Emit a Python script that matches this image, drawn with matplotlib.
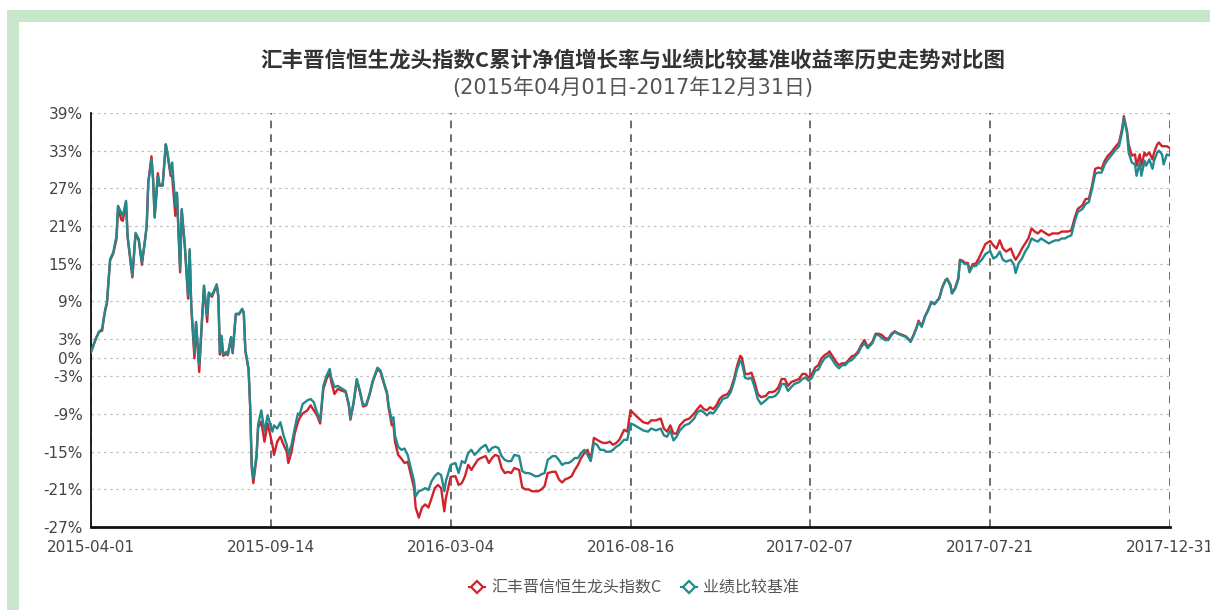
import matplotlib
matplotlib.use('Agg')
import matplotlib.pyplot as plt
from matplotlib.lines import Line2D
from matplotlib.patches import Rectangle

# 交易日序号 (0 = 2015-04-01, 678 = 2017-12-31)
days = [0, 3, 5, 7, 8, 9, 10, 12, 14, 16, 17, 19, 20, 22, 23, 26, 28, 30, 32, 34, 35, 36, 38,
        39, 40, 42, 43, 45, 47, 48, 50, 51, 53, 54, 56, 57, 59, 61, 62, 63, 65, 66, 68, 70, 71,
        73, 74, 76, 79, 80, 81, 82, 83, 85, 86, 88, 89, 91, 93, 95, 96, 97, 99, 100, 101, 102,
        104, 105, 107, 109, 111,
        114, 115, 117, 119, 121, 123, 124, 126, 128, 130, 131, 133, 136, 138, 140, 142, 144, 146,
        148, 150, 151, 153, 155, 158, 160, 162, 163, 165, 167, 169, 171, 173, 175, 177, 180, 182,
        184, 186, 187, 189, 190, 191, 193, 195, 197, 199, 200, 203, 204, 206, 208, 210, 212, 214,
        216, 218, 220, 222, 223, 226,
        229, 231, 233, 235, 237, 239, 241, 243, 245, 248, 250, 252, 254, 256, 258, 260, 262, 264,
        266, 269, 271, 273, 275, 277, 279, 281, 283, 285, 287, 290, 292, 294, 296, 298, 300, 302,
        304, 306, 308, 310, 312, 314, 316, 318, 320, 322, 324, 326, 328, 330, 332, 335, 337, 339,
        341, 343,
        347, 350, 352, 355, 358, 360, 362, 364, 366, 368, 370, 373, 376, 379, 381, 383, 385, 387,
        389, 391, 393, 395, 397, 400, 402, 404, 406, 408, 409, 411, 413, 415, 417, 419, 421, 424,
        426, 428, 430, 432, 434, 436, 438, 440, 442, 445, 447, 449, 451, 453, 455,
        457, 459, 461, 463, 464, 466, 468, 470, 472, 474, 476, 478, 480, 482, 484, 486, 488, 491,
        493, 495, 497, 499, 501, 503, 505, 507, 509, 512, 514, 515, 517, 519, 520, 522, 524, 526,
        528, 530, 533, 535, 537, 538, 540, 541, 543, 545, 546, 548, 549, 551, 552, 554, 556, 558,
        560, 562, 565,
        567, 569, 571, 573, 575, 578, 580, 581, 583, 585, 587, 589, 591, 593, 595, 597, 600, 602,
        604, 606, 608, 610, 612, 614, 616, 618, 620, 623, 625, 627, 629, 631, 633, 635, 637, 639,
        641, 644, 646, 648, 649, 651, 652, 654, 656, 657, 659, 660, 662, 663, 665, 667, 668, 670,
        671, 673, 674, 676, 678]

# 汇丰晋信恒生龙头指数C 累计净值增长率 (%)
fund = [0.9, 3.0, 4.1, 4.3, 6.2, 7.6, 8.6, 15.5, 16.6, 18.9, 24.0, 22.0, 21.8, 24.8, 19.2,
        12.8, 19.7, 18.7, 14.8, 18.8, 21.0, 28.0, 32.1, 28.6, 22.5, 29.4, 27.6, 27.5, 34.0, 32.5,
        29.0, 28.9, 22.6, 26.0, 13.6, 23.5, 17.5, 9.4, 17.0, 8.0, -0.1, 5.5, -2.3, 7.0, 11.3, 5.7,
        10.2, 9.7, 11.5, 9.7, 0.5, 3.3, 0.3, 0.6, 0.4, 3.1, 0.7, 6.9, 6.9, 7.7, 7.1, 1.0, -1.9,
        -7.8, -17.6, -20.0, -16.0, -11.2, -10.2, -13.4, -10.5,
        -13.9, -15.5, -13.4, -12.6, -13.9, -15.0, -16.8, -15.0, -12.1, -10.3, -9.7, -8.9, -8.4,
        -7.6, -8.4, -9.2, -10.5, -5.0, -3.4, -2.4, -3.9, -5.8, -5.0, -5.3, -5.5, -7.6, -9.9, -7.3,
        -3.6, -5.5, -7.8, -7.6, -6.0, -3.9, -1.8, -2.3, -4.1, -5.8, -8.0, -10.8, -10.5, -13.4,
        -15.5, -16.1, -16.8, -16.6, -17.6, -20.8, -23.9, -25.5, -23.9, -23.4, -23.9, -22.4, -20.8,
        -20.3, -20.8, -24.5, -22.4, -19.0,
        -18.9, -20.3, -20.0, -18.9, -17.1, -17.9, -17.1, -16.3, -16.0, -15.7, -16.8, -16.0, -15.5,
        -15.7, -17.6, -18.4, -18.2, -18.4, -17.6, -17.9, -20.7, -21.0, -21.0, -21.3, -21.3, -21.3,
        -21.0, -20.5, -18.4, -18.2, -18.2, -19.4, -19.9, -19.4, -19.2, -18.9, -17.9, -17.1, -16.0,
        -15.2, -14.7, -16.3, -12.8, -13.1, -13.4, -13.6, -13.6, -13.4, -13.9, -13.6, -13.1, -11.5,
        -11.8, -8.4, -8.9, -9.4,
        -10.3, -10.5, -10.0, -10.0, -9.7, -11.3, -11.8, -10.8, -12.1, -12.1, -10.8, -10.0, -9.7,
        -8.9, -8.2, -7.6, -8.2, -8.4, -7.9, -8.2, -7.6, -6.6, -6.1, -5.8, -5.0, -3.4, -1.3, 0.3,
        0.0, -2.6, -2.6, -2.4, -3.9, -5.8, -6.3, -6.1, -5.5, -5.5, -5.3, -4.7, -3.4, -3.4, -4.5,
        -3.9, -3.7, -3.4, -2.6, -2.6, -3.2, -2.6, -1.6,
        -1.2, -0.1, 0.4, 0.7, 1.0, 0.2, -0.6, -1.2, -0.9, -0.9, -0.4, 0.2, 0.4, 1.0, 2.0, 2.8,
        1.7, 2.5, 3.8, 3.8, 3.6, 3.1, 3.0, 3.8, 4.2, 3.9, 3.7, 3.4, 2.9, 2.6, 3.7, 5.0, 5.9, 5.0,
        6.6, 7.6, 8.9, 8.6, 9.5, 11.3, 12.4, 12.6, 11.6, 10.3, 11.1, 12.7, 15.6, 15.4, 15.1, 15.1,
        13.8, 14.9, 15.0, 15.9, 17.0, 18.1, 18.6,
        17.9, 17.4, 18.7, 17.4, 16.9, 17.4, 16.1, 15.6, 16.4, 17.4, 18.2, 19.0, 20.6, 20.1, 19.8,
        20.3, 19.8, 19.5, 19.8, 19.8, 19.8, 20.1, 20.1, 20.1, 20.3, 22.2, 23.7, 24.3, 25.3, 25.3,
        27.4, 30.1, 30.3, 30.1, 31.4, 32.2, 32.7, 33.7, 34.3, 36.6, 38.5, 36.1, 34.0, 32.2, 32.4,
        30.6, 32.4, 30.6, 32.7, 32.2, 32.7, 31.6, 32.7, 34.0, 34.3, 33.7, 33.7, 33.7, 33.4]

# 业绩比较基准收益率 (%)
bench = [0.9, 3.0, 4.1, 4.6, 6.2, 7.8, 8.8, 15.7, 16.8, 19.4, 24.2, 23.1, 22.6, 25.0, 19.4,
         13.1, 19.9, 18.9, 15.2, 18.9, 21.0, 27.9, 31.6, 28.4, 22.3, 28.9, 27.4, 27.4, 34.0, 32.7,
         29.5, 31.1, 24.2, 26.3, 14.1, 23.7, 17.8, 9.9, 17.3, 8.3, 0.9, 5.7, -1.2, 7.2, 11.5, 6.7,
         10.4, 9.9, 11.7, 9.9, 0.9, 3.5, 0.6, 0.9, 0.6, 3.3, 0.9, 7.0, 7.0, 7.8, 7.2, 1.2, -1.7,
         -7.6, -17.1, -19.2, -15.5, -10.7, -8.4, -11.8, -9.2,
         -11.8, -10.8, -11.3, -10.3, -12.4, -13.9, -15.5, -13.9, -11.3, -8.9, -9.2, -7.4, -6.8,
         -6.6, -7.1, -8.7, -10.0, -4.5, -2.9, -1.8, -3.2, -4.7, -4.5, -5.0, -5.3, -7.4, -9.7, -7.1,
         -3.4, -5.3, -7.6, -7.4, -5.8, -3.7, -1.6, -2.1, -3.9, -5.5, -7.6, -10.0, -9.5, -12.4,
         -14.2, -14.7, -14.5, -15.5, -16.6, -19.7, -22.1, -21.3, -21.1, -20.8, -21.1, -19.7, -18.9,
         -18.4, -18.7, -21.3, -19.7, -17.1,
         -16.8, -18.4, -16.5, -16.8, -15.2, -14.7, -15.5, -15.0, -14.4, -13.9, -15.0, -14.4, -14.2,
         -14.4, -15.7, -16.3, -16.5, -16.5, -15.5, -15.7, -18.1, -18.4, -18.4, -18.6, -18.9, -18.9,
         -18.6, -18.4, -16.3, -15.7, -15.7, -16.3, -17.1, -16.8, -16.8, -16.5, -16.0, -16.0, -15.2,
         -14.7, -15.5, -16.5, -13.6, -13.9, -14.7, -14.7, -15.0, -15.0, -14.7, -14.2, -13.9, -13.1,
         -13.1, -10.5, -10.7, -11.0,
         -11.6, -11.8, -11.3, -11.6, -11.3, -12.4, -12.6, -11.6, -13.2, -12.6, -11.6, -10.8, -10.5,
         -9.7, -8.7, -8.4, -8.7, -9.2, -8.7, -8.9, -8.2, -7.4, -6.6, -6.3, -5.5, -3.9, -1.8, -0.5,
         -0.8, -3.2, -3.4, -3.2, -4.7, -6.6, -7.4, -6.8, -6.3, -6.3, -6.1, -5.5, -4.2, -4.2, -5.3,
         -4.7, -4.2, -3.9, -3.4, -3.2, -3.7, -3.2, -2.1,
         -1.9, -0.9, -0.1, 0.2, 0.4, -0.4, -1.2, -1.7, -1.2, -1.2, -0.6, -0.4, 0.2, 0.7, 1.7, 2.3,
         1.5, 2.3, 3.6, 3.6, 3.1, 2.8, 2.8, 3.6, 4.1, 3.8, 3.6, 3.3, 2.8, 2.5, 3.6, 4.9, 5.7, 4.9,
         6.5, 7.5, 8.8, 8.5, 9.4, 11.2, 12.3, 12.5, 11.5, 10.2, 11.0, 12.5, 15.4, 15.2, 14.9, 14.9,
         13.6, 14.6, 14.6, 15.2, 15.7, 16.5, 17.0,
         15.8, 16.1, 16.9, 15.6, 15.3, 15.6, 14.8, 13.5, 15.1, 15.8, 16.9, 17.7, 19.0, 18.7, 18.5,
         19.0, 18.5, 18.2, 18.5, 18.7, 18.7, 19.0, 19.0, 19.3, 19.5, 21.6, 23.2, 23.7, 24.5, 24.8,
         26.9, 29.3, 29.5, 29.5, 30.8, 31.6, 32.2, 33.2, 33.7, 36.1, 38.2, 35.8, 32.7, 31.1, 30.8,
         29.0, 31.1, 29.0, 31.4, 30.6, 31.6, 30.1, 31.4, 32.7, 33.0, 32.4, 30.8, 32.4, 32.2]

xtick_pos = [0, 113, 226, 339, 452, 565, 678]
xtick_labels = ['2015-04-01', '2015-09-14', '2016-03-04', '2016-08-16',
                '2017-02-07', '2017-07-21', '2017-12-31']
yticks = [39, 33, 27, 21, 15, 9, 3, 0, -3, -9, -15, -21, -27]

title = '汇丰晋信恒生龙头指数C累计净值增长率与业绩比较基准收益率历史走势对比图'
subtitle = '(2015年04月01日-2017年12月31日)'
names = ['汇丰晋信恒生龙头指数C', '业绩比较基准']

red = '#d0232b'
teal = '#23898c'
cjk = ['Noto Sans CJK SC', 'DejaVu Sans']
latin = ['DejaVu Sans', 'Noto Sans CJK SC']
plt.rcParams['font.family'] = latin

W, H = 1210, 610
fig = plt.figure(figsize=(W / 100, H / 100), dpi=100)

# 绿色边框
green = '#c8e6c9'
fig.add_artist(Rectangle((7 / W, 1 - 22 / H), 1 - 7 / W, 12 / H, transform=fig.transFigure,
                         color=green, lw=0))
fig.add_artist(Rectangle((7 / W, 0), 12 / W, 1 - 10 / H, transform=fig.transFigure,
                         color=green, lw=0))

ax = fig.add_axes([91 / W, 1 - 527 / H, (1170 - 91) / W, (527 - 113) / H])
ax.plot(days, fund, color=red, lw=1.7, zorder=3)
ax.plot(days, bench, color=teal, lw=1.7, zorder=4)

ax.set_xlim(0, 678)
ax.set_ylim(-27, 39)
ax.set_xticks(xtick_pos)
ax.set_xticklabels(xtick_labels)
ax.set_yticks(yticks)
ax.set_yticklabels([f'{v}%' for v in yticks])
ax.yaxis.grid(True, ls=(0, (2, 3)), color='#c0c0c0', lw=0.9)
ax.xaxis.grid(True, ls=(0, (5, 4)), color='#444444', lw=1.1)
ax.set_axisbelow(True)
ax.tick_params(length=0, labelsize=11, labelcolor='#444444')
ax.tick_params(axis='x', pad=9)
ax.tick_params(axis='y', pad=6)
for s in ['top', 'right']:
    ax.spines[s].set_visible(False)
ax.spines['left'].set_color('#111111')
ax.spines['left'].set_linewidth(1.3)
ax.spines['bottom'].set_color('#111111')
ax.spines['bottom'].set_linewidth(2)

fig.text(633 / W, 1 - 60 / H, title, ha='center', va='center', fontsize=15.5,
         fontweight='bold', color='#333333', family=cjk)
fig.text(633 / W, 1 - 88 / H, subtitle, ha='center', va='center', fontsize=15,
         color='#555555', family=latin)

handles = [Line2D([], [], color=c, lw=1.5, marker='D', ms=6, mfc='white', mec=c, mew=1.6)
           for c in (red, teal)]
fig.legend(handles, names, loc='center', bbox_to_anchor=(634 / W, 1 - 588 / H), ncol=2,
           frameon=False, handlelength=1.0, handletextpad=0.4, columnspacing=1.2,
           labelcolor='#555555', prop={'family': cjk, 'size': 11.5})

fig.savefig('out.png', dpi=100)
